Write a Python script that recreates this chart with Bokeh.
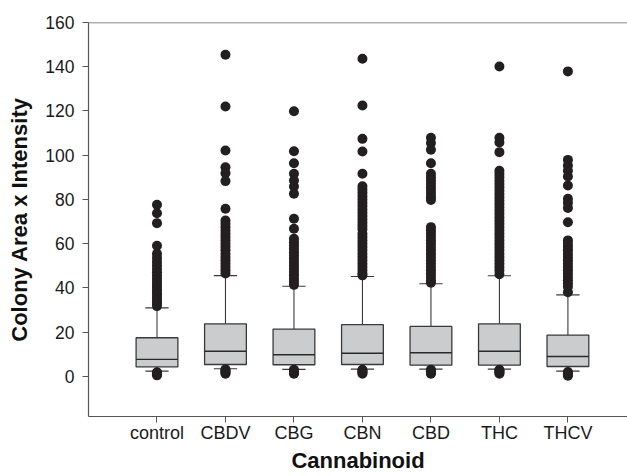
from bokeh.plotting import figure
from bokeh.models import Range1d, FixedTicker, Span, ColumnDataSource
from bokeh.embed import file_html
from bokeh.resources import INLINE

categories = ["control", "CBDV", "CBG", "CBN", "CBD", "THC", "THCV"]
q1 = [4.3, 5.4, 5.3, 5.4, 5.1, 5.1, 4.5]
median = [7.7, 11.4, 9.8, 10.5, 10.7, 11.4, 9.0]
q3 = [17.5, 23.8, 21.4, 23.4, 22.6, 23.8, 18.7]
whisker_low = [2.4, 3.5, 3.2, 3.3, 3.3, 3.3, 2.4]
whisker_high = [31.0, 45.6, 40.8, 45.2, 41.9, 45.5, 36.9]

out_control = [77.6, 73.8, 69.3, 59.1, 55.5, 53.6, 51.8, 50.2, 48.6, 47.1, 45.6, 44.2,
               42.8, 41.5, 40.2, 38.9, 37.6, 36.4, 35.2, 34.0, 32.9, 31.8,
               0.5, 1.0, 1.5, 1.9]
out_cbdv = [145.4, 122.0, 102.1, 94.6, 91.9, 88.3, 75.8, 70.5, 69.0, 67.5, 66.0, 64.5,
            63.0, 61.5, 60.0, 58.5, 57.0, 55.5, 54.0, 52.5, 51.0, 49.5, 48.0, 46.5,
            1.2, 1.7, 2.2, 2.7, 3.2]
out_cbg = [119.9, 101.8, 96.4, 91.6, 88.6, 85.9, 82.6, 71.3, 66.8, 62.2, 60.7, 59.2,
           57.7, 56.2, 54.7, 53.2, 51.7, 50.2, 48.7, 47.2, 45.7, 44.2, 42.7, 41.4,
           1.2, 1.7, 2.2, 2.7, 3.0]
out_cbn = [143.6, 122.5, 107.4, 101.7, 91.6, 86.0, 84.5, 83.0, 81.5, 80.0, 78.5, 77.0,
           75.5, 74.0, 72.5, 71.0, 69.5, 68.0, 66.5, 64.5, 63.0, 61.5, 60.0, 58.5,
           57.0, 55.5, 54.0, 52.5, 51.0, 49.5, 48.0, 46.5, 45.7,
           1.2, 1.7, 2.2, 2.7, 3.0]
out_cbd = [107.9, 105.5, 102.5, 96.4, 91.6, 90.0, 88.5, 87.0, 85.5, 84.0, 82.5, 81.0,
           79.8, 67.5, 66.0, 64.5, 63.0, 61.5, 60.0, 58.5, 57.0, 55.5, 54.0, 52.5,
           51.0, 49.5, 48.0, 46.5, 45.0, 43.5, 42.4,
           1.2, 1.7, 2.2, 2.7, 3.0]
out_thc = [140.1, 107.9, 105.8, 101.4, 93.0, 91.5, 90.0, 88.5, 87.0, 85.5, 84.0, 82.5,
           81.0, 79.5, 78.0, 76.5, 75.0, 73.5, 72.0, 70.5, 69.0, 67.5, 66.0, 64.5,
           63.0, 61.5, 60.0, 58.5, 57.0, 55.5, 54.0, 52.5, 51.0, 49.5, 48.0, 46.2,
           1.2, 1.7, 2.2, 2.7, 3.0]
out_thcv = [137.9, 97.9, 95.4, 93.0, 90.4, 86.3, 80.3, 78.5, 76.2, 69.7, 61.5, 60.0,
            58.5, 57.0, 55.5, 54.0, 52.5, 51.0, 49.5, 48.0, 46.5, 45.0, 43.5, 42.0,
            40.5, 38.1,
            0.3, 0.9, 1.5, 2.0]
outliers = [out_control, out_cbdv, out_cbg, out_cbn, out_cbd, out_thc, out_thcv]

y_ticks = [0, 20, 40, 60, 80, 100, 120, 140, 160]

FONT = "Liberation Sans"
pos = list(range(1, len(categories) + 1))

p = figure(width=627, height=476, output_backend="svg", toolbar_location=None,
           x_range=Range1d(0, 7.87), y_range=Range1d(-18.1, 160),
           min_border_left=88, min_border_right=0, min_border_top=22, min_border_bottom=60)
p.grid.visible = False
p.outline_line_color = None
p.background_fill_color = "white"
p.border_fill_color = "white"

src = ColumnDataSource(dict(x=pos, q1=q1, q3=q3, med=median, lo=whisker_low, hi=whisker_high,
                            cl=[v - 0.17 for v in pos], cr=[v + 0.17 for v in pos],
                            bl=[v - 0.305 for v in pos], br=[v + 0.305 for v in pos]))

line_c = "#3a3a3a"
# whiskers
p.segment(x0="x", y0="q3", x1="x", y1="hi", source=src, line_color=line_c, line_width=1.1)
p.segment(x0="x", y0="q1", x1="x", y1="lo", source=src, line_color=line_c, line_width=1.1)
p.segment(x0="cl", y0="hi", x1="cr", y1="hi", source=src, line_color=line_c, line_width=1.1)
p.segment(x0="cl", y0="lo", x1="cr", y1="lo", source=src, line_color=line_c, line_width=1.1)
# boxes
p.vbar(x="x", width=0.61, bottom="q1", top="q3", source=src,
       fill_color="#cbcccd", line_color=line_c, line_width=1.3)
p.segment(x0="bl", y0="med", x1="br", y1="med", source=src, line_color="#2a2a2a", line_width=1.4)

ox, oy = [], []
for i, vals in enumerate(outliers):
    ox.extend([pos[i]] * len(vals))
    oy.extend(vals)
p.scatter(ox, oy, size=10, color="#231f20", line_width=0)

p.add_layout(Span(location=160, dimension="width", line_color="#666666", line_width=1.5))

for ax in (p.xaxis[0], p.yaxis[0]):
    ax.axis_line_color = "#555555"
    ax.axis_line_width = 1.2
    ax.major_tick_line_color = "#555555"
    ax.major_tick_out = 6
    ax.major_tick_in = 0
    ax.minor_tick_line_color = None
    ax.major_label_text_font = FONT
    ax.major_label_text_color = "#1a1a1a"
    ax.axis_label_text_font = FONT
    ax.axis_label_text_font_style = "bold"
    ax.axis_label_text_font_size = "22px"
    ax.axis_label_text_color = "#111111"

p.xaxis.ticker = FixedTicker(ticks=pos)
p.xaxis.major_label_overrides = {pos[i]: categories[i] for i in range(len(categories))}
p.xaxis.axis_label = "Cannabinoid"
p.xaxis.major_label_text_font_size = "18px"
p.xaxis.major_label_standoff = 0
p.xaxis.axis_label_standoff = 2

p.yaxis.ticker = FixedTicker(ticks=y_ticks)
p.yaxis.axis_label = "Colony Area x Intensity"
p.yaxis.major_label_text_font_size = "17.5px"
p.yaxis.major_label_standoff = 8
p.yaxis.axis_label_standoff = 10

open("out.html", "w").write(file_html(p, INLINE))
